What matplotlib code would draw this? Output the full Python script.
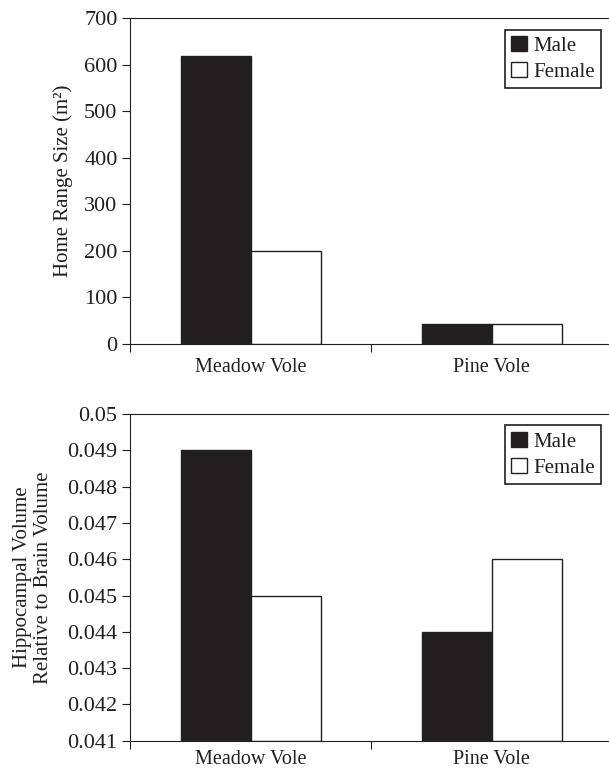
import numpy as np
import matplotlib
matplotlib.use("Agg")
from matplotlib import pyplot as plt

plt.rcParams['font.family'] = ['Liberation Serif', 'DejaVu Serif']
plt.rcParams['font.size'] = 15

species = ['Meadow Vole', 'Pine Vole']
sexes = ['Male', 'Female']

home_range_male = [620, 42]
home_range_female = [200, 42]
home_ticks = [0, 100, 200, 300, 400, 500, 600, 700]

hippo_male = [0.049, 0.044]
hippo_female = [0.045, 0.046]
hippo_ticks = [0.041, 0.042, 0.043, 0.044, 0.045, 0.046, 0.047, 0.048, 0.049, 0.05]
hippo_tick_labels = ['0.041', '0.042', '0.043', '0.044', '0.045', '0.046',
                     '0.047', '0.048', '0.049', '0.05']

ink = '#231f20'

fig = plt.figure(figsize=(6.09, 7.72), dpi=100)
ax1 = fig.add_axes([0.2135, 0.5544, 0.792, 0.4219])
ax2 = fig.add_axes([0.2135, 0.0405, 0.792, 0.4232])

x = np.arange(len(species))
w = 0.29


def draw(ax, male, female, floor, xpad):
    # bars start at the axis floor
    ax.bar(x - w / 2, np.array(male) - floor, w, bottom=floor,
           color=ink, edgecolor=ink, linewidth=1, label=sexes[0])
    ax.bar(x + w / 2, np.array(female) - floor, w, bottom=floor,
           color='white', edgecolor=ink, linewidth=1, label=sexes[1])
    ax.set_xlim(-0.5, 1.5)
    ax.set_xticks([-0.5, 0.5, 1.5])
    ax.set_xticklabels([])
    ax.set_xticks(x, minor=True)
    ax.set_xticklabels(species, minor=True, fontsize=14.5)
    ax.tick_params(axis='x', which='minor', length=0, pad=xpad, colors=ink)
    ax.tick_params(axis='x', which='major', direction='out', length=6, color=ink)
    ax.tick_params(axis='y', direction='out', length=6, color=ink,
                   labelcolor=ink, labelsize=16, pad=3)
    ax.spines['right'].set_visible(False)
    for s in ['left', 'bottom', 'top']:
        ax.spines[s].set_color(ink)
    leg = ax.legend(loc='upper right', handlelength=0.75, handleheight=0.75,
                    handletextpad=0.3, borderaxespad=0.55, fancybox=False,
                    edgecolor=ink, framealpha=1, borderpad=0.3, labelspacing=0.3)
    leg.get_frame().set_linewidth(1.2)
    for t in leg.get_texts():
        t.set_color(ink)


draw(ax1, home_range_male, home_range_female, 0, 10)
ax1.set_ylim(0, 700)
ax1.set_yticks(home_ticks)
ax1.set_ylabel('Home Range Size (m²)', color=ink)
ax1.yaxis.set_label_coords(-0.118, 0.5)

draw(ax2, hippo_male, hippo_female, hippo_ticks[0], 7)
ax2.set_ylim(0.041, 0.05)
ax2.set_yticks(hippo_ticks)
ax2.set_yticklabels(hippo_tick_labels)
ax2.set_ylabel('Hippocampal Volume\nRelative to Brain Volume', color=ink,
               linespacing=1.15)
ax2.yaxis.set_label_coords(-0.16, 0.5)

fig.savefig('out.png', dpi=100)
